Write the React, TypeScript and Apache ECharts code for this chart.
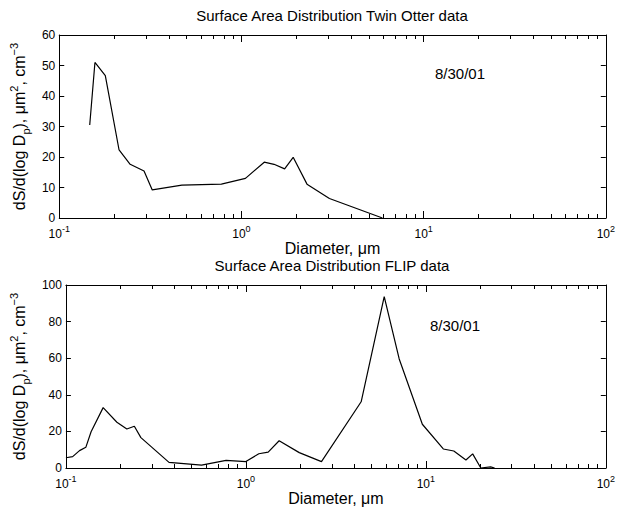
import React, { useEffect, useRef } from "react";
import * as echarts from "echarts";

// Twin Otter data (diameter µm, dS/dlogDp)
const twinDiam = [0.147, 0.157, 0.179, 0.213, 0.245, 0.292, 0.324, 0.471, 0.776, 1.052, 1.334, 1.51, 1.726, 1.923, 2.29, 3.04, 5.94];
const twinSurf = [30.5, 51.0, 46.7, 22.3, 17.6, 15.4, 9.2, 10.8, 11.1, 13.0, 18.3, 17.6, 16.1, 19.9, 11.1, 6.4, 0];

// FLIP data
const flipDiam = [0.1, 0.109, 0.119, 0.129, 0.138, 0.161, 0.192, 0.218, 0.24, 0.261, 0.374, 0.567, 0.776, 1.0, 1.18, 1.33, 1.53, 1.98, 2.63, 4.37, 5.87, 7.11, 9.56, 12.5, 14.3, 16.7, 18.2, 20.2, 22.9, 24.1];
const flipSurf = [5.6, 6.2, 9.5, 11.3, 19.8, 33.0, 25.0, 21.3, 22.8, 16.6, 3.1, 1.6, 4.2, 3.5, 7.8, 8.7, 14.9, 8.4, 3.5, 36.2, 93.6, 59.6, 23.9, 10.4, 9.3, 4.4, 7.7, 0, 0.6, 0];

const titles = ["Surface Area Distribution Twin Otter data", "Surface Area Distribution FLIP data"];
const dateLabel = "8/30/01";
const xName = "Diameter, \u03bcm";
const yName = "dS/d(log D{sub|p}), \u03bcm{sup|2}, cm{sup|\u22123}";
const yMax = [60, 100];
const yInterval = [10, 20];
const decades = [-1, 0, 1];
const minorMult = [2, 3, 4, 5, 6, 7, 8, 9];

const FONT = "Liberation Sans, Arial, Helvetica, sans-serif";

export default function App() {
  const ref = useRef<HTMLDivElement>(null);
  useEffect(() => {
    if (!ref.current) return;
    const chart = echarts.init(ref.current, null, { renderer: "svg" });
    const gridLeft = 56;
    const gridW = 553;
    const gridH = 183;
    const tops = [35, 285];

    const minorVals: number[] = [];
    decades.forEach((d) => minorMult.forEach((m) => minorVals.push(Math.log10(m) + d)));

    const grids = tops.map((t) => ({ left: gridLeft, top: t, width: gridW, height: gridH, containLabel: false }));
    const xAxes: any[] = [];
    const yAxes: any[] = [];
    [0, 1].forEach((g) => {
      // main log axis bottom
      xAxes.push({
        type: "log",
        logBase: 10,
        gridIndex: g,
        position: "bottom",
        min: 0.1,
        max: 100,
        name: xName,
        nameLocation: "middle",
        nameGap: 17,
        nameTextStyle: { fontFamily: FONT, fontSize: 16, color: "#000", verticalAlign: "top" },
        axisLine: { show: true, onZero: false, lineStyle: { color: "#000", width: 1 } },
        axisTick: { show: true, inside: true, length: 7, lineStyle: { color: "#000" } },
        axisLabel: {
          show: true,
          margin: 6,
          formatter: (v: number) => `{b|10}{s|${Math.round(Math.log10(v))}}`,
          rich: {
            b: { fontFamily: FONT, fontSize: 12, color: "#000", lineHeight: 16, verticalAlign: "bottom" },
            s: { fontFamily: FONT, fontSize: 9, color: "#000", lineHeight: 16, verticalAlign: "top" },
          },
        },
        splitLine: { show: false },
      });
      // top log axis
      xAxes.push({
        type: "log",
        logBase: 10,
        gridIndex: g,
        position: "top",
        min: 0.1,
        max: 100,
        axisLine: { show: true, onZero: false, lineStyle: { color: "#000", width: 1 } },
        axisTick: { show: true, inside: true, length: 7, lineStyle: { color: "#000" } },
        axisLabel: { show: false },
        splitLine: { show: false },
      });
      // minor ticks bottom & top
      ["bottom", "top"].forEach((pos) => {
        xAxes.push({
          type: "value",
          gridIndex: g,
          position: pos,
          min: -1,
          max: 2,
          axisLine: { show: false, onZero: false },
          axisTick: { show: true, inside: true, length: 4, customValues: minorVals, lineStyle: { color: "#000" } },
          axisLabel: { show: false },
          splitLine: { show: false },
        });
      });
      yAxes.push({
        type: "value",
        gridIndex: g,
        position: "left",
        min: 0,
        max: yMax[g],
        interval: yInterval[g],
        name: yName,
        nameLocation: "middle",
        nameGap: 20,
        nameTextStyle: {
          fontFamily: FONT,
          fontSize: 16,
          color: "#000",
          lineHeight: 23,
          rich: {
            sub: { fontFamily: FONT, fontSize: 11, color: "#000", lineHeight: 23, verticalAlign: "bottom" },
            sup: { fontFamily: FONT, fontSize: 11, color: "#000", lineHeight: 23, verticalAlign: "top" },
          },
        },
        axisLine: { show: true, onZero: false, lineStyle: { color: "#000", width: 1 } },
        axisTick: { show: true, inside: true, length: 5, lineStyle: { color: "#000" } },
        axisLabel: { show: true, margin: 4, fontFamily: FONT, fontSize: 12, color: "#000" },
        splitLine: { show: false },
      });
      yAxes.push({
        type: "value",
        gridIndex: g,
        position: "right",
        min: 0,
        max: yMax[g],
        interval: yInterval[g],
        axisLine: { show: true, onZero: false, lineStyle: { color: "#000", width: 1 } },
        axisTick: { show: true, inside: true, length: 5, lineStyle: { color: "#000" } },
        axisLabel: { show: false },
        splitLine: { show: false },
      });
    });

    const mkData = (xs: number[], ys: number[]) => xs.map((x, i) => [x, ys[i]]);

    chart.setOption({
      animation: false,
      backgroundColor: "#fff",
      grid: grids,
      xAxis: xAxes,
      yAxis: yAxes,
      series: [
        {
          type: "line",
          xAxisIndex: 0,
          yAxisIndex: 0,
          data: mkData(twinDiam, twinSurf),
          symbol: "none",
          lineStyle: { color: "#000", width: 1.2 },
        },
        {
          type: "line",
          xAxisIndex: 4,
          yAxisIndex: 2,
          data: mkData(flipDiam, flipSurf),
          symbol: "none",
          lineStyle: { color: "#000", width: 1.2 },
        },
      ],
      graphic: [
        { type: "text", x: 332, y: 15, style: { text: titles[0], fontFamily: FONT, fontSize: 15, fill: "#000", textAlign: "center", textVerticalAlign: "middle" } },
        { type: "text", x: 332, y: 265, style: { text: titles[1], fontFamily: FONT, fontSize: 15, fill: "#000", textAlign: "center", textVerticalAlign: "middle" } },
        { type: "text", x: 435, y: 73, style: { text: dateLabel, fontFamily: FONT, fontSize: 15, fill: "#000", textAlign: "left", textVerticalAlign: "middle" } },
        { type: "text", x: 430, y: 325, style: { text: dateLabel, fontFamily: FONT, fontSize: 15, fill: "#000", textAlign: "left", textVerticalAlign: "middle" } },
      ],
    });
    return () => chart.dispose();
  }, []);
  return <div ref={ref} style={{ position: "fixed", left: 0, top: 0, width: 618, height: 509 }} />;
}
